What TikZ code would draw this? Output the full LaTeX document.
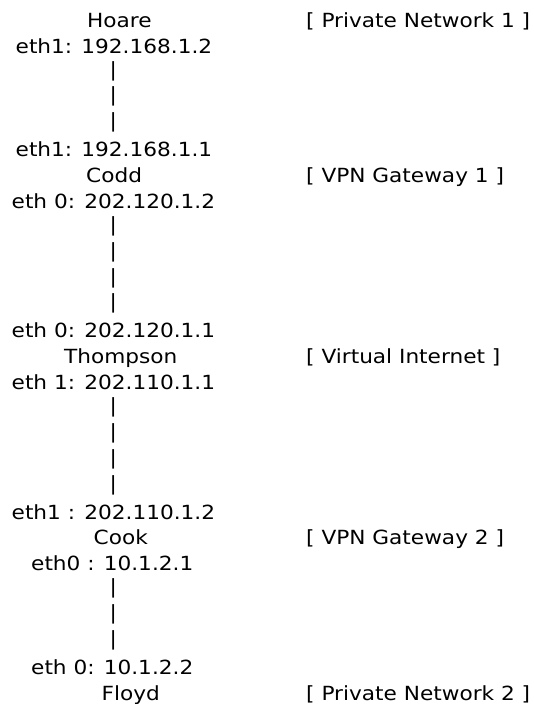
\documentclass[tikz,border=0pt]{standalone}
\usepackage{fontspec}
\setmainfont{DejaVu Sans}[FakeStretch=1.11]
\begin{document}
\begin{tikzpicture}[x=1pt,y=-1pt,
  txt/.style={anchor=base west,inner sep=0pt,font=\fontsize{19.5pt}{23pt}\selectfont},
  bar/.style={anchor=base,inner sep=0pt,yshift=3pt,font=\fontsize{19.5pt}{23pt}\selectfont}]
\useasboundingbox (0,0) rectangle (534,704);
\def\ly#1{27.3+25.88*(#1-1)}
% left column
\node[txt] (hoare)  at (87,{\ly{1}})  {Hoare};
\node[txt] (h1)     at (15.5,{\ly{2}}) {eth1: 192.168.1.2};
\node[bar] (p3)     at (113.3,{\ly{3}}) {|};
\node[bar] (p4)     at (113.3,{\ly{4}}) {|};
\node[bar] (p5)     at (113.3,{\ly{5}}) {|};
\node[txt] (c1)     at (15.5,{\ly{6}}) {eth1: 192.168.1.1};
\node[txt] (codd)   at (86,{\ly{7}})  {Codd};
\node[txt] (c0)     at (11.5,{\ly{8}}) {eth 0: 202.120.1.2};
\node[bar] (p9)     at (113.3,{\ly{9}}) {|};
\node[bar] (p10)    at (113.3,{\ly{10}}) {|};
\node[bar] (p11)    at (113.3,{\ly{11}}) {|};
\node[bar] (p12)    at (113.3,{\ly{12}}) {|};
\node[txt] (t0)     at (11.5,{\ly{13}}) {eth 0: 202.120.1.1};
\node[txt] (thomp)  at (64,{\ly{14}}) {Thompson};
\node[txt] (t1)     at (11.5,{\ly{15}}) {eth 1: 202.110.1.1};
\node[bar] (p16)    at (113.3,{\ly{16}}) {|};
\node[bar] (p17)    at (113.3,{\ly{17}}) {|};
\node[bar] (p18)    at (113.3,{\ly{18}}) {|};
\node[bar] (p19)    at (113.3,{\ly{19}}) {|};
\node[txt] (k1)     at (11.5,{\ly{20}}) {eth1 : 202.110.1.2};
\node[txt] (cook)   at (93.5,{\ly{21}}) {Cook};
\node[txt] (k0)     at (31,{\ly{22}}) {eth0 : 10.1.2.1};
\node[bar] (p23)    at (113.3,{\ly{23}}) {|};
\node[bar] (p24)    at (113.3,{\ly{24}}) {|};
\node[bar] (p25)    at (113.3,{\ly{25}}) {|};
\node[txt] (f0)     at (31,{\ly{26}}) {eth 0: 10.1.2.2};
\node[txt] (floyd)  at (101.5,{\ly{27}}) {Floyd};
% right column
\node[txt] (r1) at (306,{\ly{1}})  {[ Private Network 1 ]};
\node[txt] (r2) at (306,{\ly{7}})  {[ VPN Gateway 1 ]};
\node[txt] (r3) at (306,{\ly{14}}) {[ Virtual Internet ]};
\node[txt] (r4) at (306,{\ly{21}}) {[ VPN Gateway 2 ]};
\node[txt] (r5) at (306,{\ly{27}}) {[ Private Network 2 ]};
\end{tikzpicture}
\end{document}
